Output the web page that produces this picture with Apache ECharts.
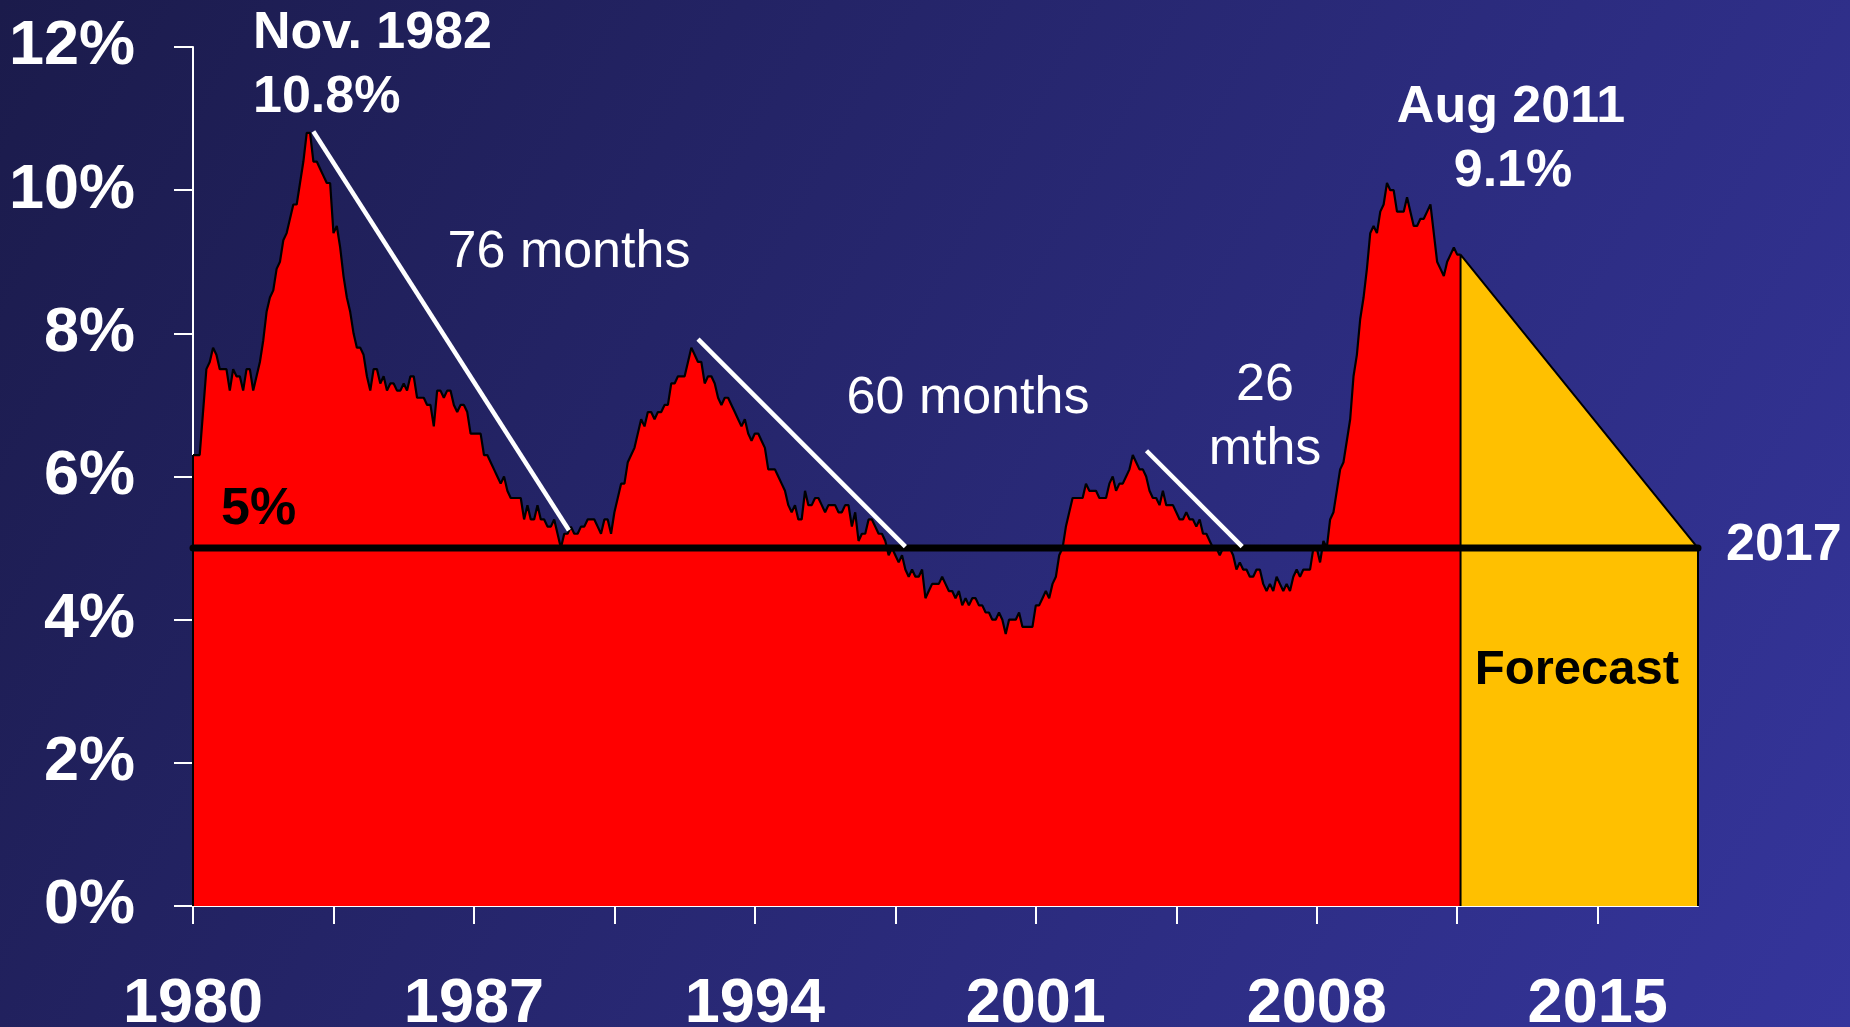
<!DOCTYPE html>
<html>
<head>
<meta charset="utf-8">
<title>Unemployment rate 1980-2017</title>
<script src="https://cdn.jsdelivr.net/npm/echarts@6/dist/echarts.min.js"></script>
<style>
  html, body { margin: 0; padding: 0; background: #24246a; }
  #chart { width: 1850px; height: 1027px; }
</style>
</head>
<body>
<div id="chart"></div>
<script>
// monthly unemployment rate (%), one row per year, Jan 1980 .. Aug 2011
const rate1980s = [
  6.3, 6.3, 6.3, 6.9, 7.5, 7.6, 7.8, 7.7, 7.5, 7.5, 7.5, 7.2,
  7.5, 7.4, 7.4, 7.2, 7.5, 7.5, 7.2, 7.4, 7.6, 7.9, 8.3, 8.5,
  8.6, 8.9, 9.0, 9.3, 9.4, 9.6, 9.8, 9.8, 10.1, 10.4, 10.8, 10.8,
  10.4, 10.4, 10.3, 10.2, 10.1, 10.1, 9.4, 9.5, 9.2, 8.8, 8.5, 8.3,
  8.0, 7.8, 7.8, 7.7, 7.4, 7.2, 7.5, 7.5, 7.3, 7.4, 7.2, 7.3,
  7.3, 7.2, 7.2, 7.3, 7.2, 7.4, 7.4, 7.1, 7.1, 7.1, 7.0, 7.0,
  6.7, 7.2, 7.2, 7.1, 7.2, 7.2, 7.0, 6.9, 7.0, 7.0, 6.9, 6.6,
  6.6, 6.6, 6.6, 6.3, 6.3, 6.2, 6.1, 6.0, 5.9, 6.0, 5.8, 5.7,
  5.7, 5.7, 5.7, 5.4, 5.6, 5.4, 5.4, 5.6, 5.4, 5.4, 5.3, 5.3,
  5.4, 5.2, 5.0, 5.2, 5.2, 5.3, 5.2, 5.2, 5.3, 5.3, 5.4, 5.4
];
const rate1990s = [
  5.4, 5.3, 5.2, 5.4, 5.4, 5.2, 5.5, 5.7, 5.9, 5.9, 6.2, 6.3,
  6.4, 6.6, 6.8, 6.7, 6.9, 6.9, 6.8, 6.9, 6.9, 7.0, 7.0, 7.3,
  7.3, 7.4, 7.4, 7.4, 7.6, 7.8, 7.7, 7.6, 7.6, 7.3, 7.4, 7.4,
  7.3, 7.1, 7.0, 7.1, 7.1, 7.0, 6.9, 6.8, 6.7, 6.8, 6.6, 6.5,
  6.6, 6.6, 6.5, 6.4, 6.1, 6.1, 6.1, 6.0, 5.9, 5.8, 5.6, 5.5,
  5.6, 5.4, 5.4, 5.8, 5.6, 5.6, 5.7, 5.7, 5.6, 5.5, 5.6, 5.6,
  5.6, 5.5, 5.5, 5.6, 5.6, 5.3, 5.5, 5.1, 5.2, 5.2, 5.4, 5.4,
  5.3, 5.2, 5.2, 5.1, 4.9, 5.0, 4.9, 4.8, 4.9, 4.7, 4.6, 4.7,
  4.6, 4.6, 4.7, 4.3, 4.4, 4.5, 4.5, 4.5, 4.6, 4.5, 4.4, 4.4,
  4.3, 4.4, 4.2, 4.3, 4.2, 4.3, 4.3, 4.2, 4.2, 4.1, 4.1, 4.0
];
const rate2000s = [
  4.0, 4.1, 4.0, 3.8, 4.0, 4.0, 4.0, 4.1, 3.9, 3.9, 3.9, 3.9,
  4.2, 4.2, 4.3, 4.4, 4.3, 4.5, 4.6, 4.9, 5.0, 5.3, 5.5, 5.7,
  5.7, 5.7, 5.7, 5.9, 5.8, 5.8, 5.8, 5.7, 5.7, 5.7, 5.9, 6.0,
  5.8, 5.9, 5.9, 6.0, 6.1, 6.3, 6.2, 6.1, 6.1, 6.0, 5.8, 5.7,
  5.7, 5.6, 5.8, 5.6, 5.6, 5.6, 5.5, 5.4, 5.4, 5.5, 5.4, 5.4,
  5.3, 5.4, 5.2, 5.2, 5.1, 5.0, 5.0, 4.9, 5.0, 5.0, 5.0, 4.9,
  4.7, 4.8, 4.7, 4.7, 4.6, 4.6, 4.7, 4.7, 4.5, 4.4, 4.5, 4.4,
  4.6, 4.5, 4.4, 4.5, 4.4, 4.6, 4.7, 4.6, 4.7, 4.7, 4.7, 5.0,
  5.0, 4.8, 5.1, 5.0, 5.4, 5.5, 5.8, 6.1, 6.2, 6.5, 6.8, 7.4,
  7.7, 8.2, 8.5, 8.9, 9.4, 9.5, 9.4, 9.7, 9.8, 10.1, 10.0, 10.0
];
const rate2010s = [
  9.7, 9.7, 9.7, 9.9, 9.7, 9.5, 9.5, 9.6, 9.6, 9.7, 9.8, 9.4,
  9.0, 8.9, 8.8, 9.0, 9.1, 9.2, 9.1, 9.1
];
const rates = [].concat(rate1980s, rate1990s, rate2000s, rate2010s);

// x is counted in months from Jan 1980
const startYear = 1980;
const lastMonth = 450;               // mid 2017
const yearTicks = [0, 42, 84, 126, 168, 210, 252, 294, 336, 378, 420];
const yearLabels = [0, 84, 168, 252, 336, 420];

// forecast wedge: Aug 2011 at 9.1% down to 5% in 2017
const forecastPoints = [[379, 0], [379, 9.1], [450, 5], [450, 0]];
const targetRate = 5;

// the white "back to 5%" lines drawn on the slide, [month, %]
const recoveryLines = [
  [[36, 10.82], [112.4, 5.25]],
  [[151, 7.92], [213, 5.02]],
  [[285.1, 6.36], [313.7, 5.02]]
];

const font = '"Liberation Sans", Arial, Helvetica, sans-serif';

const notes = [
  { text: 'Nov. 1982', x: 253, y: 34, align: 'left', bold: true, color: '#fff', size: 52 },
  { text: '10.8%', x: 253, y: 98, align: 'left', bold: true, color: '#fff', size: 52 },
  { text: '76 months', x: 569, y: 253, align: 'center', bold: false, color: '#fff', size: 52 },
  { text: '60 months', x: 968, y: 399, align: 'center', bold: false, color: '#fff', size: 52 },
  { text: '26', x: 1265, y: 386, align: 'center', bold: false, color: '#fff', size: 52 },
  { text: 'mths', x: 1265, y: 450, align: 'center', bold: false, color: '#fff', size: 52 },
  { text: 'Aug 2011', x: 1511, y: 108, align: 'center', bold: true, color: '#fff', size: 52 },
  { text: '9.1%', x: 1513, y: 172, align: 'center', bold: true, color: '#fff', size: 52 },
  { text: '5%', x: 221, y: 510, align: 'left', bold: true, color: '#000', size: 52 },
  { text: '2017', x: 1726, y: 546, align: 'left', bold: true, color: '#fff', size: 52 },
  { text: 'Forecast', x: 1577, y: 670, align: 'center', bold: true, color: '#000', size: 49 }
];

const chart = echarts.init(document.getElementById('chart'), null, { renderer: 'canvas' });

const whiteLine = { color: '#fff', width: 2 };

chart.setOption({
  animation: false,
  backgroundColor: {
    type: 'linear', x: 0, y: 0, x2: 1, y2: 1,
    colorStops: [
      { offset: 0, color: '#1b1b4b' },
      { offset: 1, color: '#35359c' }
    ]
  },
  grid: { left: 193, right: 152, top: 47, bottom: 121, outerBoundsMode: 'none', containLabel: false },
  xAxis: {
    type: 'value',
    min: 0,
    max: lastMonth,
    axisLine: { lineStyle: whiteLine },
    axisTick: { show: true, length: 18, lineStyle: whiteLine, customValues: yearTicks },
    axisLabel: {
      customValues: yearLabels,
      formatter: (v) => String(startYear + v / 12),
      color: '#fff',
      fontSize: 63,
      fontWeight: 'bold',
      fontFamily: font,
      margin: 67
    },
    splitLine: { show: false }
  },
  yAxis: {
    type: 'value',
    min: 0,
    max: 12,
    interval: 2,
    axisLine: { show: true, lineStyle: whiteLine },
    axisTick: { show: true, length: 19, lineStyle: whiteLine },
    axisLabel: {
      formatter: '{value}%',
      color: '#fff',
      fontSize: 63,
      fontWeight: 'bold',
      fontFamily: font,
      margin: 58,
      padding: [10, 0, 0, 0]
    },
    splitLine: { show: false }
  },
  series: [
    {
      name: 'Unemployment rate',
      type: 'line',
      data: rates.map((v, i) => [i, v]),
      symbol: 'none',
      lineStyle: { color: '#000', width: 2.2 },
      areaStyle: { color: '#ff0000', opacity: 1 },
      silent: true,
      z: 2,
      markLine: {
        silent: true,
        symbol: 'none',
        label: { show: false },
        lineStyle: { color: '#000', width: 2, type: 'solid' },
        data: [[{ coord: [0, 0] }, { coord: [0, rates[0]] }]]
      }
    },
    {
      name: 'Forecast',
      type: 'line',
      data: forecastPoints,
      symbol: 'none',
      lineStyle: { color: '#000', width: 2 },
      areaStyle: { color: '#ffc000', opacity: 1 },
      silent: true,
      z: 3
    },
    {
      name: '5%',
      type: 'line',
      data: [[0, targetRate], [lastMonth, targetRate]],
      symbol: 'none',
      lineStyle: { color: '#000', width: 7, cap: 'round' },
      silent: true,
      z: 5
    }
  ].concat(recoveryLines.map((seg) => ({
    type: 'line',
    data: seg,
    symbol: 'none',
    lineStyle: { color: '#fff', width: 4.5 },
    silent: true,
    z: 6
  }))),
  graphic: notes.map((n) => ({
    type: 'text',
    x: n.x,
    y: n.y,
    z: 100,
    style: {
      text: n.text,
      fill: n.color,
      font: (n.bold ? 'bold ' : '') + n.size + 'px ' + font,
      textAlign: n.align,
      textVerticalAlign: 'middle'
    }
  }))
});

window.addEventListener('resize', () => chart.resize());
</script>
</body>
</html>
